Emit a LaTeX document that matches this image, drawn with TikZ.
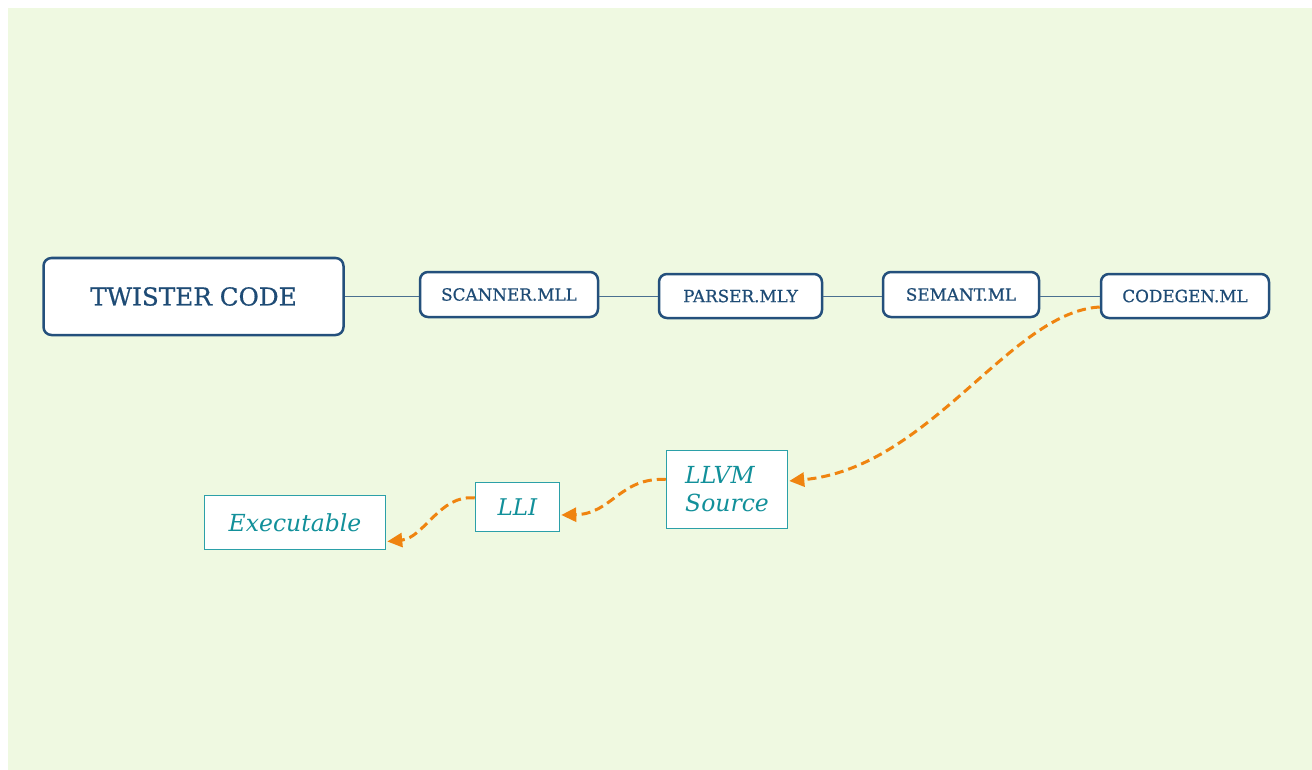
\documentclass[tikz,border=0pt]{standalone}
\usepackage{fontspec}
\setmainfont{DejaVu Serif}
\newfontfamily\medserif{DejaVu Serif}[FakeBold=0.6]
\usetikzlibrary{calc,arrows.meta}
\definecolor{bggreen}{HTML}{EFF9E1}
\definecolor{darkblue}{HTML}{24507C}
\definecolor{textblue}{HTML}{1E4B75}
\definecolor{linkblue}{HTML}{4A7090}
\definecolor{tealb}{HTML}{2BA0A8}
\definecolor{tealt}{HTML}{12909A}
\definecolor{orng}{HTML}{EF8410}
\begin{document}
\begin{tikzpicture}[x=1pt,y=-1pt,
  mainbox/.style={draw=darkblue,line width=2.5pt,fill=white,rounded corners=8pt,
    text=textblue,inner sep=0pt,align=center},
  outbox/.style={draw=tealb,line width=1.5pt,fill=white,text=tealt,inner sep=0pt},
  link/.style={draw=linkblue,line width=1.3pt},
  flow/.style={draw=orng,line width=3pt,dash pattern=on 9pt off 5pt,
    -{Triangle[length=15pt,width=14pt]}}]
\useasboundingbox (0,0) rectangle (1312,770);
\fill[white] (0,0) rectangle (1312,770);
\fill[bggreen] (8,8) rectangle (1312,770);
\node[mainbox,minimum width=300pt,minimum height=77pt,font=\medserif\fontsize{24.7}{28}\selectfont] (tw) at (193.5,296.5) {TWISTER CODE};
\node[mainbox,minimum width=178pt,minimum height=45pt,font=\medserif\fontsize{16.8}{19}\selectfont] (sc) at (509,294.5) {SCANNER.MLL};
\node[mainbox,minimum width=163pt,minimum height=44pt,font=\medserif\fontsize{16.8}{19}\selectfont] (pa) at (740.5,296) {PARSER.MLY};
\node[mainbox,minimum width=156pt,minimum height=45pt,font=\medserif\fontsize{16.8}{19}\selectfont] (se) at (961,294.5) {SEMANT.ML};
\node[mainbox,minimum width=168pt,minimum height=44pt,font=\medserif\fontsize{16.8}{19}\selectfont] (cg) at (1185,296) {CODEGEN.ML};
\node[outbox,minimum width=121pt,minimum height=78pt,align=left,font=\itshape\fontsize{23.5}{28}\selectfont] (llvm) at (727,489.5) {LLVM\\Source};
\node[outbox,minimum width=84pt,minimum height=49pt,font=\itshape\fontsize{23}{26}\selectfont] (lli) at (517.5,507) {LLI};
\node[outbox,minimum width=181pt,minimum height=54pt,font=\itshape\fontsize{23.5}{26}\selectfont] (ex) at (295,522.5) {Executable};
\draw[link] (tw.east) -- (sc.west |- tw.east);
\draw[link] (sc.east |- tw.east) -- (pa.west |- tw.east);
\draw[link] (pa.east |- tw.east) -- (se.west |- tw.east);
\draw[link] (se.east |- tw.east) -- (cg.west |- tw.east);
\coordinate (c1s) at ($(cg.west)+(0,11)$);
\coordinate (c1e) at ($(llvm.east)+(1,-8.5)$);
\coordinate (c2s) at ($(llvm.west)+(0,-10)$);
\coordinate (c2e) at ($(lli.east)+(1,8)$);
\coordinate (c3s) at ($(lli.west)+(0,-9)$);
\coordinate (c3e) at ($(ex.east)+(1,19)$);
\draw[flow] (c1s) .. controls (1010,312) and (930,468) .. (c1e);
\draw[flow] (c2s) .. controls (620,477) and (612,514) .. (c2e);
\draw[flow] (c3s) .. controls (440,494) and (424,538) .. (c3e);
\end{tikzpicture}
\end{document}
